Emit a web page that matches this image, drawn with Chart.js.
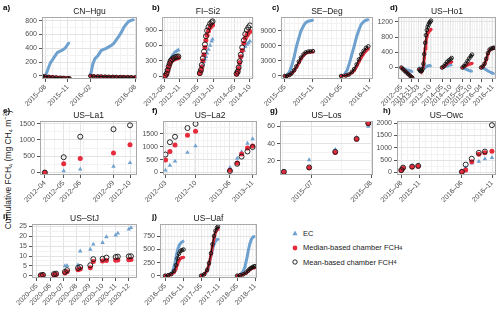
<!DOCTYPE html>
<html>
<head>
<meta charset="utf-8">
<script src="https://cdn.jsdelivr.net/npm/chart.js@4.4.1/dist/chart.umd.min.js"></script>
<style>
  body { margin: 0; width: 500px; height: 312px; position: relative; background: #fff; overflow: hidden;
         font-family: "Liberation Sans", Arial, sans-serif; color: #1a1a1a; }
  canvas { position: absolute; }
  .letter { position: absolute; font-size: 8px; font-weight: bold; color: #000; }
  .ttl { position: absolute; font-size: 8.5px; text-align: center; line-height: 10px; color: #1a1a1a; }
  #ylab { position: absolute; left: -92px; top: 164px; width: 200px; text-align: center; font-size: 8.5px;
          transform: rotate(-90deg); transform-origin: center; color: #1a1a1a; }
  #legend { position: absolute; left: 290px; top: 226px; font-size: 7.5px; color: #1a1a1a; }
  #legend div { height: 14.5px; display: flex; align-items: center; color: #1a1a1a; }
  #legend svg { margin-right: 3px; }
  .sb { font-size: 5.5px; vertical-align: -1.5px; }
</style>
</head>
<body>
<div id="ylab">Cumulative FCH<span class="sb">4</span> (mg CH<span class="sb">4</span> m<sup style="font-size:6px">−2</sup>)</div>
<div id="legend">
  <div><svg width="10" height="10"><polygon points="5,2.6 7.6,7.2 2.4,7.2" fill="#6fa1cf"/></svg>EC</div>
  <div><svg width="10" height="10"><circle cx="5" cy="5" r="2.4" fill="#e52b3c"/></svg>Median-based chamber FCH<span class="sb">4</span></div>
  <div><svg width="10" height="10"><circle cx="5" cy="5" r="2.2" fill="none" stroke="#141414" stroke-width="0.9"/></svg>Mean-based chamber FCH<span class="sb">4</span></div>
</div>
<script>
// ---- data ----
// a) CN-Hgu
const aEcDates = ['2015-08-01','2015-08-08','2015-08-15','2015-08-22','2015-09-01','2015-09-10','2015-09-20','2015-10-01','2015-10-10','2015-10-20','2015-10-28','2015-11-03','2015-11-06', null,
  '2016-02-01','2016-02-06','2016-02-12','2016-02-20','2016-03-01','2016-03-08','2016-03-15','2016-03-25','2016-04-05','2016-04-15','2016-04-25','2016-05-05','2016-05-15','2016-05-25','2016-06-05','2016-06-15','2016-06-25','2016-07-05','2016-07-15','2016-07-25'];
const aEc = [0,60,130,190,240,290,340,360,375,400,440,470,480,null,0,80,180,250,290,330,370,385,400,420,440,470,520,570,630,700,750,790,805,815];
const aChDates = ['2015-07-20','2015-08-01','2015-08-15','2015-09-01','2015-09-15','2015-10-01','2015-10-15','2015-11-01','2015-11-08', null,
  '2016-02-01','2016-02-15','2016-03-01','2016-03-15','2016-04-01','2016-04-15','2016-05-01','2016-05-15','2016-06-01','2016-06-15','2016-07-01','2016-07-15','2016-08-01'];
const aMedian = [0,-5,-10,-15,-18,-22,-25,-28,-30,null,0,-3,-5,-6,-8,-10,-10,-12,-13,-14,-15,-16,-18];
const aMean = [0,-8,-14,-20,-24,-28,-31,-34,-36,null,0,-5,-8,-9,-11,-13,-14,-16,-17,-18,-19,-20,-22];

// b) FI-Si2
const bDates = ['2012-06-10','2012-06-25','2012-07-05','2012-07-15','2012-07-25','2012-08-05','2012-08-20','2012-09-05','2012-09-20','2012-10-05','2012-10-20',
  '2013-05-20','2013-06-01','2013-06-10','2013-06-20','2013-07-01','2013-07-10','2013-07-20','2013-08-01','2013-08-15','2013-09-01','2013-09-15','2013-09-25',
  '2014-05-20','2014-06-01','2014-06-10','2014-06-20','2014-07-01','2014-07-15','2014-08-01','2014-08-15','2014-09-01','2014-09-15','2014-10-01'];
const bEc = [10,60,140,220,290,350,400,440,470,490,510, 80,130,180,230,280,330,380,450,520,600,680,720, 60,100,150,220,300,400,500,580,620,650,680];
const bMedian = [5,40,100,170,230,280,310,330,345,355,360, 50,100,180,300,420,560,700,800,880,950,990,1000, 40,80,150,260,380,500,640,740,800,840,870];
const bMean = [8,50,120,190,250,300,330,355,370,380,385, 60,120,220,350,480,620,780,890,960,1020,1050,1070, 50,90,170,290,420,560,700,820,900,950,990];

// c) SE-Deg
const cEcDates = ['2015-05-01','2015-05-15','2015-06-01','2015-06-15','2015-07-01','2015-07-15','2015-08-01','2015-08-15','2015-09-01','2015-09-15','2015-10-01','2015-10-15','2015-11-01', null,
  '2016-05-01','2016-05-20','2016-06-10','2016-06-25','2016-07-10','2016-07-25','2016-08-10','2016-08-25','2016-09-10','2016-09-25','2016-10-10','2016-10-25'];
const cEc = [0,150,800,2000,3800,5800,7600,9000,10000,10600,10900,11000,11100,null,0,200,1200,2600,4300,6000,7800,9200,10300,10800,11100,11200];
const cChDates = ['2015-05-01','2015-05-15','2015-06-01','2015-06-15','2015-07-01','2015-07-15','2015-08-01','2015-08-15','2015-09-01','2015-09-15','2015-10-01','2015-10-15','2015-11-01', null,
  '2016-05-01','2016-06-01','2016-06-20','2016-07-10','2016-07-25','2016-08-10','2016-08-25','2016-09-10','2016-09-25','2016-10-10','2016-10-25'];
const cMedian = [0,20,150,450,1000,1700,2600,3400,4100,4500,4700,4750,4800,null,0,80,250,650,1100,1900,2800,3700,4400,5000,5400];
const cMean = [0,30,200,550,1150,1900,2850,3650,4300,4700,4850,4900,4950,null,0,100,300,800,1400,2300,3300,4300,5000,5600,5900];

// d) US-Ho1
const dEcDates = ['2012-05-01','2012-06-01','2012-07-01','2012-08-01','2012-09-01','2012-10-01','2012-11-01','2012-11-15', null,
  '2013-03-15','2013-04-15','2013-05-15','2013-06-15','2013-07-15','2013-08-15','2013-09-15','2013-10-15', null,
  '2014-05-01','2014-06-01','2014-07-01','2014-08-01','2014-09-01','2014-10-01','2014-10-20', null,
  '2015-05-01','2015-06-01','2015-07-01','2015-08-01','2015-09-01','2015-10-01','2015-10-20', null,
  '2016-04-01','2016-05-01','2016-06-01','2016-07-01','2016-08-01','2016-09-01','2016-10-01','2016-11-01','2016-11-15'];
const dEc = [0,-20,-40,-60,-70,-80,-100,-110,null, 0,-20,-40,-20,20,40,50,40,null, 0,10,30,40,60,70,60,null, 0,-20,-40,-60,-80,-90,-100,null, 0,-10,-30,-60,-90,-110,-130,-150,-160];
const dChDates = ['2012-05-01','2012-06-01','2012-07-01','2012-08-01','2012-09-01','2012-10-01','2012-11-01','2012-11-15', null,
  '2013-03-15','2013-04-01','2013-04-15','2013-05-01','2013-05-15','2013-06-01','2013-06-15','2013-07-01','2013-07-15','2013-08-01','2013-08-15','2013-09-01','2013-09-15','2013-10-01','2013-10-15', null,
  '2014-05-01','2014-06-01','2014-07-01','2014-08-01','2014-09-01','2014-10-01','2014-10-20', null,
  '2015-05-01','2015-06-01','2015-07-01','2015-08-01','2015-09-01','2015-10-01','2015-10-20', null,
  '2016-04-01','2016-05-01','2016-06-01','2016-07-01','2016-08-01','2016-09-01','2016-10-01','2016-11-01','2016-11-15'];
const dMedian = [0,-40,-80,-120,-160,-200,-240,-260,null, -50,-80,-100,-100,-60,50,250,500,680,800,880,930,960,980,1000,null, 0,20,60,100,130,140,150,null, 0,20,50,70,90,100,110,null, 0,20,80,200,350,450,480,500,510];
const dMean = [0,-45,-90,-130,-170,-210,-250,-270,null, -50,-80,-100,-90,-40,100,350,650,850,980,1060,1120,1170,1200,1230,null, 0,30,90,150,190,220,250,null, 0,40,100,170,240,300,340,null, 0,30,100,230,380,470,500,510,520];

// e) US-La1
const eDates = ['2012-04-10','2012-05-20','2012-06-25','2012-09-05','2012-10-10'];
const eEc = [null,50,100,190,300];
const eMedian = [0,270,430,600,850];
const eMean = [0,470,1100,1330,1450];

// f) US-La2
const fDates = ['2012-03-15','2012-04-15','2012-05-20','2012-08-15','2012-10-10','2013-06-05','2013-07-25','2013-08-25','2013-10-05','2013-11-10'];
const fEc = [90,280,440,780,1030,190,550,800,1130,1310];
const fMedian = [490,820,1070,1450,1600,90,370,720,950,1030];
const fMean = [700,1180,1390,1730,1890,60,340,620,820,990];

// g) US-Los
const gDates = ['2015-06-17','2015-06-30','2015-07-13','2015-07-24','2015-07-30'];
const gEc = [null,21,33,47,60];
const gMedian = [6.9,11.8,29.6,45,63];
const gMean = [7.2,12.3,30.5,45.5,63.8];

// h) US-Owc
const hDates = ['2015-08-01','2015-08-10','2015-09-25','2015-10-25','2016-06-01','2016-06-20','2016-07-20','2016-08-25','2016-09-25','2016-10-30'];
const hEc = [90,180,270,310,60,200,380,450,550,600];
const hMedian = [80,170,220,250,20,100,440,740,800,860];
const hMean = [100,200,240,270,30,320,560,800,850,1920];

// i) US-StJ
const iDates = ['2020-05-10','2020-05-15','2020-06-10','2020-06-15','2020-07-05','2020-07-10','2020-08-05','2020-08-10','2020-09-03','2020-09-10','2020-10-01','2020-10-10','2020-11-01','2020-11-06','2020-12-01','2020-12-06'];
const iEc = [0.4,0.6,1.0,1.1,5.0,5.1,5.4,12.5,13.4,16.0,16.8,19.7,20.6,21.6,23.6,24.4];
const iMedian = [0.1,0.2,0.5,0.6,1.3,2.0,3.0,3.4,4.0,7.2,7.4,7.7,7.8,8.0,8.1,8.2];
const iMean = [0.2,0.4,0.8,1.0,1.9,2.8,3.9,4.4,5.3,8.4,8.6,9.2,9.5,9.7,9.8,9.9];

// j) US-Uaf
const jEcDates = ['2016-05-01','2016-06-01','2016-07-01','2016-07-20','2016-08-10','2016-08-25','2016-09-10','2016-09-25','2016-10-10','2016-10-25','2016-11-05', null,
  '2017-05-01','2017-06-01','2017-07-01','2017-07-20','2017-08-10','2017-08-25','2017-09-10','2017-09-25','2017-10-10','2017-10-25', null,
  '2018-05-01','2018-06-01','2018-07-01','2018-07-20','2018-08-10','2018-08-25','2018-09-10','2018-09-25','2018-10-10','2018-10-25'];
const jEc = [0,10,40,100,250,400,520,590,630,650,660,null,0,20,80,200,380,500,600,660,690,700,null,0,20,80,170,350,500,620,700,740,750];
const jChDates = ['2016-05-01','2016-06-01','2016-07-01','2016-08-01','2016-08-20','2016-09-05','2016-09-20','2016-10-05','2016-10-20','2016-11-05', null,
  '2017-05-01','2017-06-01','2017-07-01','2017-07-20','2017-08-10','2017-08-25','2017-09-10','2017-09-25','2017-10-10','2017-10-20', null,
  '2018-05-01','2018-06-01','2018-07-01','2018-08-01','2018-08-20','2018-09-05','2018-09-20','2018-10-05','2018-10-20','2018-10-30'];
const jMedian = [0,5,20,60,130,220,290,330,345,350,null,0,20,100,220,400,560,720,830,890,910,null,0,5,20,50,80,110,130,145,150,155];
const jMean = [0,8,30,90,200,330,420,470,490,500,null,0,25,110,240,430,600,760,860,920,940,null,0,8,25,60,95,125,145,165,175,180];

// tick labels
const aTicks = ['2015-08-01','2015-11-01','2016-02-01','2016-08-01'];
const bTicks = ['2012-06-01','2012-11-01','2013-05-01','2013-10-01','2014-05-01','2014-10-01'];
const cTicks = ['2015-05-01','2015-11-01','2016-05-01','2016-11-01'];
const dTicks = ['2012-05-01','2012-11-01','2013-03-01','2013-10-01','2014-05-01','2014-10-01','2015-05-01','2015-10-01','2016-04-01','2016-11-01'];
const eTicks = eDates;
const fTicks = ['2012-03-15','2012-10-10','2013-06-05','2013-11-10'];
const gTicks = ['2015-07-01','2015-08-01'];
const hTicks = ['2015-08-01','2015-11-01','2016-06-01','2016-11-01'];
const iTicks = ['2020-05-01','2020-06-01','2020-07-01','2020-08-01','2020-09-01','2020-10-01','2020-11-01','2020-12-01'];
const jTicks = ['2016-05-01','2016-11-01','2017-05-01','2017-11-01','2018-05-01','2018-11-01'];

// ---- drawing ----
const BLUE = '#6fa1cf', RED = '#e52b3c', DARK = '#141414';
const YW = 40, PT = 6, PR = 6, XH = 32;
Chart.defaults.font.family = '"Liberation Sans", Arial, sans-serif';

function mo(s) {
  const [y, m, d] = s.split('-').map(Number);
  return (y - 2000) * 12 + (m - 1) + (d - 1) / 30.44;
}
function fmtMonth(v) {
  const y = 2000 + Math.floor(v / 12);
  const m = Math.floor(v - Math.floor(v / 12) * 12 + 1e-6) + 1;
  return y + '–' + String(m).padStart(2, '0');
}
function pts(dates, vals) {
  const out = [];
  let lastX = 0;
  dates.forEach((d, i) => {
    if (d === null) { out.push({x: lastX, y: null}); return; }
    lastX = mo(d);
    if (vals[i] !== null) out.push({x: lastX, y: vals[i]});
  });
  return out;
}

const panels = [
  {k:'a', t:'CN–Hgu', box:[42,17,137,79], xr:['2015-07-18','2016-08-08'], xt:aTicks, yr:[-45,850], yt:[0,200,400,600,800], dense:true,
   ecD:aEcDates, ec:aEc, chD:aChDates, med:aMedian, mean:aMean, lx:3, ly:3},
  {k:'b', t:'FI–Si2', box:[162,17,254,79], xr:['2012-05-10','2014-11-05'], xt:bTicks, yr:[-55,1150], yt:[0,300,600,900], dense:false,
   ecD:bDates, ec:bEc, chD:bDates, med:bMedian, mean:bMean, lx:152, ly:3},
  {k:'c', t:'SE–Deg', box:[281,17,373,79], xr:['2015-04-07','2016-11-25'], xt:cTicks, yr:[-600,11700], yt:[0,3000,6000,9000], dense:true,
   ecD:cEcDates, ec:cEc, chD:cChDates, med:cMedian, mean:cMean, lx:272, ly:3},
  {k:'d', t:'US–Ho1', box:[398,17,496,79], xr:['2012-03-01','2016-12-25'], xt:dTicks, yr:[-300,1320], yt:[0,400,800,1200], dense:true,
   ecD:dEcDates, ec:dEc, chD:dChDates, med:dMedian, mean:dMean, lx:390, ly:3},
  {k:'e', t:'US–La1', box:[40,121,137,175], xr:['2012-03-30','2012-10-25'], xt:eTicks, yr:[-75,1575], yt:[0,500,1000,1500], dense:false,
   ecD:eDates, ec:eEc, chD:eDates, med:eMedian, mean:eMean, lx:3, ly:106},
  {k:'f', t:'US–La2', box:[163,121,257,175], xr:['2012-02-28','2013-12-10'], xt:fTicks, yr:[-95,1995], yt:[0,500,1000,1500], dense:false,
   ecD:fDates, ec:fEc, chD:fDates, med:fMedian, mean:fMean, lx:152, ly:106},
  {k:'g', t:'US–Los', box:[280,121,373,175], xr:['2015-06-15','2015-08-02'], xt:gTicks, yr:[3.5,66], yt:[20,40,60], dense:false, half:true,
   ecD:gDates, ec:gEc, chD:gDates, med:gMedian, mean:gMean, lx:270, ly:106},
  {k:'h', t:'US–Owc', box:[397,121,496,175], xr:['2015-07-10','2016-11-20'], xt:hTicks, yr:[-100,2080], yt:[0,500,1000,1500,2000], dense:false,
   ecD:hDates, ec:hEc, chD:hDates, med:hMedian, mean:hMean, lx:383, ly:106},
  {k:'i', t:'US–StJ', box:[32,224,137,278], xr:['2020-04-20','2020-12-20'], xt:iTicks, yr:[-1.2,26.2], yt:[0,5,10,15,20,25], dense:false,
   ecD:iDates, ec:iEc, chD:iDates, med:iMedian, mean:iMean, lx:3, ly:212},
  {k:'j', t:'US–Uaf', box:[160,224,257,278], xr:['2016-03-10','2018-11-20'], xt:jTicks, yr:[-45,985], yt:[0,250,500,750], dense:true,
   ecD:jEcDates, ec:jEc, chD:jChDates, med:jMedian, mean:jMean, lx:152, ly:212}
];

const frame = {
  id: 'frame',
  afterDraw(c) {
    const a = c.chartArea, g = c.ctx;
    g.save();
    g.strokeStyle = '#a9a9a9';
    g.lineWidth = 1;
    g.strokeRect(Math.round(a.left) + 0.5, Math.round(a.top) + 0.5, Math.round(a.right - a.left) - 1, Math.round(a.bottom - a.top) - 1);
    g.restore();
  }
};

function xTickList(p) {
  const lo = mo(p.xr[0]), hi = mo(p.xr[1]);
  const major = p.xt.map(mo);
  const list = major.map(v => ({value: v}));
  const step = p.half ? 0.5 : 1;
  for (let v = Math.ceil(lo / step) * step; v <= hi; v += step) {
    if (major.every(m => Math.abs(m - v) > 0.2)) list.push({value: v, minor: true});
  }
  return list.sort((u, w) => u.value - w.value);
}
function yTickList(p) {
  const list = p.yt.map(v => ({value: v}));
  const step = p.yt[1] - p.yt[0];
  for (let v = p.yt[0] - step / 2; v <= p.yr[1]; v += step) {
    if (v >= p.yr[0]) list.push({value: v, minor: true});
  }
  return list.sort((u, w) => u.value - w.value);
}

function gridOpts() {
  return {
    color: ctx => (ctx.tick && ctx.tick.minor) ? '#f2f2f2' : '#e3e3e3',
    lineWidth: 1,
    tickLength: 3,
    tickColor: ctx => (ctx.tick && ctx.tick.minor) ? 'rgba(0,0,0,0)' : '#555'
  };
}

function makePanel(p) {
  const [l, t, r, b] = p.box;
  const cv = document.createElement('canvas');
  cv.width = r - l + YW + PR;
  cv.height = b - t + PT + XH;
  cv.style.left = (l - YW) + 'px';
  cv.style.top = (t - PT) + 'px';
  document.body.appendChild(cv);

  const lab = document.createElement('div');
  lab.className = 'letter';
  lab.style.left = p.lx + 'px';
  lab.style.top = p.ly + 'px';
  lab.textContent = p.k + ')';
  document.body.appendChild(lab);

  const ttl = document.createElement('div');
  ttl.className = 'ttl';
  ttl.style.left = l + 'px';
  ttl.style.width = (r - l) + 'px';
  ttl.style.top = (t - 11) + 'px';
  ttl.textContent = p.t;
  document.body.appendChild(ttl);

  const dense = p.dense;
  const datasets = [
    {label: 'EC', data: pts(p.ecD, p.ec), order: 3, showLine: dense, spanGaps: false,
     borderColor: BLUE, borderWidth: 3, pointStyle: 'triangle', pointRadius: dense ? 1.6 : 2.6,
     pointBackgroundColor: BLUE, pointBorderWidth: 0},
    {label: 'Median', data: pts(p.chD, p.med), order: 2, showLine: dense, spanGaps: false,
     borderColor: RED, borderWidth: 3, pointStyle: 'circle', pointRadius: dense ? 1.6 : 2.5,
     pointBackgroundColor: RED, pointBorderWidth: 0},
    {label: 'Mean', data: pts(p.chD, p.mean), order: 1, showLine: dense, spanGaps: false,
     borderColor: DARK, borderWidth: 1.2, pointStyle: 'circle', pointRadius: dense ? 1.8 : 2.5,
     pointBackgroundColor: 'rgba(0,0,0,0)', pointBorderColor: DARK, pointBorderWidth: 0.9}
  ];

  new Chart(cv, {
    type: 'scatter',
    data: {datasets},
    options: {
      responsive: false,
      animation: false,
      events: [],
      layout: {padding: {top: PT, right: PR, left: 0, bottom: 0}},
      plugins: {legend: {display: false}, tooltip: {enabled: false}},
      scales: {
        x: {
          type: 'linear',
          min: mo(p.xr[0]), max: mo(p.xr[1]),
          afterBuildTicks: s => { s.ticks = xTickList(p); },
          afterFit: s => { s.height = XH; },
          border: {display: false},
          grid: gridOpts(),
          ticks: {autoSkip: false, minRotation: 45, maxRotation: 45, padding: 1,
                  font: {size: 7}, color: '#4d4d4d',
                  callback: (v, i, ticks) => ticks[i].minor ? '' : fmtMonth(v)}
        },
        y: {
          min: p.yr[0], max: p.yr[1],
          afterBuildTicks: s => { s.ticks = yTickList(p); },
          afterFit: s => { s.width = YW; },
          border: {display: false},
          grid: gridOpts(),
          ticks: {autoSkip: false, padding: 2, font: {size: 7}, color: '#4d4d4d',
                  callback: (v, i, ticks) => ticks[i].minor ? '' : String(v)}
        }
      }
    },
    plugins: [frame]
  });
}

panels.forEach(makePanel);
</script>
</body>
</html>
